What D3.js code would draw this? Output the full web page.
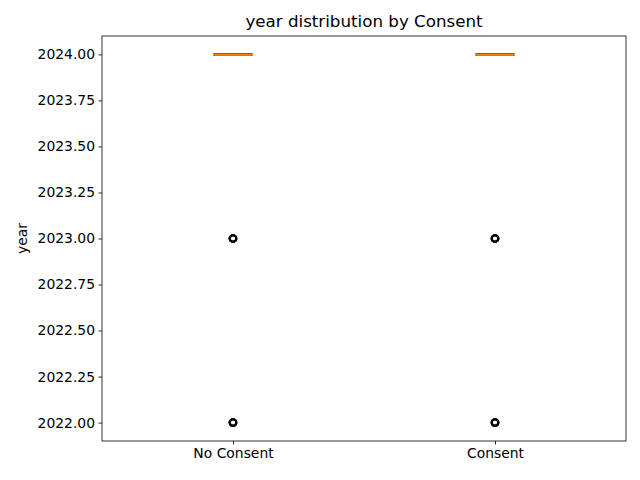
<!DOCTYPE html>
<html>
<head>
<meta charset="utf-8">
<script src="https://cdn.jsdelivr.net/npm/d3@7"></script>
<style>
  body { margin: 0; background: #fff; }
  text { font-family: "DejaVu Sans", sans-serif; }
</style>
</head>
<body>
<svg id="chart" width="640" height="480"></svg>
<script>
// box summary per group
const categories = ["No Consent", "Consent"];
const q1 = [2024, 2024];
const medians = [2024, 2024];
const q3 = [2024, 2024];
const whiskerLow = [2024, 2024];
const whiskerHigh = [2024, 2024];
// outliers (many records share these years)
const fliers = [[2023, 2023, 2023, 2022, 2022, 2022], [2023, 2023, 2023, 2022, 2022, 2022]];
const yTicks = [2022.00, 2022.25, 2022.50, 2022.75, 2023.00, 2023.25, 2023.50, 2023.75, 2024.00];

const margin = {left: 102, right: 14, top: 36, bottom: 39};
const svg = d3.select("#chart");
const width = +svg.attr("width"), height = +svg.attr("height");
const boxW = 0.15;

const x = d3.scaleLinear().domain([0.5, 2.5]).range([margin.left, width - margin.right]);
const y = d3.scaleLinear().domain([2021.9, 2024.1]).range([height - margin.bottom, margin.top]);

const g = svg.append("g");

categories.forEach(function(c, i) {
  const pos = i + 1;
  const grp = g.append("g");
  // whiskers
  grp.append("line")
    .attr("x1", x(pos)).attr("x2", x(pos))
    .attr("y1", y(whiskerLow[i])).attr("y2", y(q1[i]))
    .attr("stroke", "#000").attr("stroke-width", 1);
  grp.append("line")
    .attr("x1", x(pos)).attr("x2", x(pos))
    .attr("y1", y(q3[i])).attr("y2", y(whiskerHigh[i]))
    .attr("stroke", "#000").attr("stroke-width", 1);
  // caps
  [whiskerLow[i], whiskerHigh[i]].forEach(function(v) {
    grp.append("line")
      .attr("x1", x(pos - boxW / 4)).attr("x2", x(pos + boxW / 4))
      .attr("y1", y(v)).attr("y2", y(v))
      .attr("stroke", "#000").attr("stroke-width", 1);
  });
  // box (collapsed, so it shows as a dark line round the median)
  grp.append("line")
    .attr("x1", x(pos - boxW / 2)).attr("x2", x(pos + boxW / 2))
    .attr("y1", y(q3[i])).attr("y2", y(q3[i]))
    .attr("stroke", "#555").attr("stroke-width", 2.6);
  // median
  grp.append("line")
    .attr("x1", x(pos - boxW / 2)).attr("x2", x(pos + boxW / 2))
    .attr("y1", y(medians[i])).attr("y2", y(medians[i]))
    .attr("stroke", "#ff7f0e").attr("stroke-width", 1.5);
  // outliers
  grp.selectAll("circle").data(fliers[i]).enter().append("circle")
    .attr("cx", x(pos)).attr("cy", d => y(d))
    .attr("r", 3.3)
    .attr("fill", "none").attr("stroke", "#000").attr("stroke-width", 2.1);
});

// axes
const yAxis = d3.axisLeft(y).tickValues(yTicks).tickFormat(d3.format(".2f")).tickSize(3.5).tickPadding(3.5);
const xAxis = d3.axisBottom(x).tickValues([1, 2]).tickFormat((d, i) => categories[i]).tickSize(3.5).tickPadding(3.5);

const ya = svg.append("g").attr("transform", "translate(" + margin.left + ",0)").call(yAxis);
const xa = svg.append("g").attr("transform", "translate(0," + (height - margin.bottom) + ")").call(xAxis);
[ya, xa].forEach(function(a) {
  a.select(".domain").remove();
  a.selectAll("text").attr("font-size", "13.9px").attr("fill", "#000").style("font-family", "DejaVu Sans");
  a.selectAll("line").attr("stroke", "#000").attr("stroke-width", 0.8);
});

// frame
svg.append("rect")
  .attr("x", margin.left).attr("y", margin.top)
  .attr("width", width - margin.left - margin.right)
  .attr("height", height - margin.bottom - margin.top)
  .attr("fill", "none").attr("stroke", "#000").attr("stroke-width", 0.8);

svg.append("text")
  .attr("x", (margin.left + width - margin.right) / 2).attr("y", 27)
  .attr("text-anchor", "middle").attr("font-size", "16.7px")
  .text("year distribution by Consent");

svg.append("text")
  .attr("transform", "translate(27," + ((margin.top + height - margin.bottom) / 2) + ") rotate(-90)")
  .attr("text-anchor", "middle").attr("font-size", "13.9px")
  .text("year");
</script>
</body>
</html>
